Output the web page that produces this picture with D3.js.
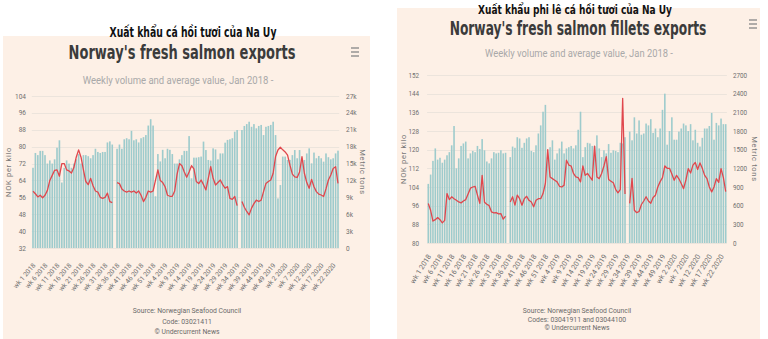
<!DOCTYPE html>
<html>
<head>
<meta charset="utf-8">
<script src="https://cdn.jsdelivr.net/npm/d3@7"></script>
<style>
  body { margin: 0; background: #fff; }
  svg { display: block; }
  text { font-family: Roboto, "Noto Sans", sans-serif; }
</style>
</head>
<body>
<script>
// categories: wk 1 2018 .. wk 24 2020
var weeks = [];
[2018, 2019].forEach(function (yr) {
  for (var w = 1; w <= 52; w++) weeks.push("wk " + w + " " + yr);
});
for (var w = 1; w <= 24; w++) weeks.push("wk " + w + " 2020");

var tickLabels = ["wk 1 2018", "wk 6 2018", "wk 11 2018", "wk 16 2018", "wk 21 2018", "wk 26 2018",
  "wk 31 2018", "wk 36 2018", "wk 41 2018", "wk 46 2018", "wk 51 2018", "wk 4 2019", "wk 9 2019",
  "wk 14 2019", "wk 19 2019", "wk 24 2019", "wk 29 2019", "wk 34 2019", "wk 39 2019", "wk 44 2019",
  "wk 49 2019", "wk 2 2020", "wk 7 2020", "wk 12 2020", "wk 17 2020", "wk 22 2020"];

// fresh salmon, metric tons per week
var salmonTons = [14250, 16880, 16500, 17250, 17250, 16500, 15000, 15560, 15000, 15750,
  17810, 19130, 11630, 14250, 15560, 15000, 14250, 15000, 15750, 16690,
  15000, 16500, 16500, 16310, 15940, 16500, 17630, 17060, 16880, 17060,
  17060, 18750, 18940, 18380, null, 17630, 18380, 17630, 19310, 19500,
  19310, 20810, 19130, 19310, 18750, 19500, 19690, 20060, 21750, 22880,
  21750, 9190, 16690, 15380, 17440, 15940, 17630, 17440, 16690, 15000,
  15000, 15750, 16500, 17250, 17250, 19880, 12380, 16050, 16050, 16130,
  16240, 18900, 17400, 15640, 15530, 17700, 17510, 15750, 16800, 16800,
  18710, 19200, 19310, 19500, 20660, 20960, null, 20960, 21680, 22010,
  22430, 21530, 22010, 21260, 21680, 21860, 20060, 21530, 21680, 21860,
  22430, 20060, 8810, 11180, 16240, 16240, 15640, 15640, 16500, 17400,
  15940, 17400, 15340, 15640, 16800, 17700, 15040, 16950, 15940, 16350,
  15940, 15340, 16800, 16130, 15750, 15940, 16800, 17290];

// fresh salmon, NOK per kilo
var salmonPrice = [58.9, 57.7, 56.2, 57, 55.8, 57, 59.3, 64, 66.4, 68.8,
  69, 66, 72, 72, 69, 68.5, 67.5, 70, 75, 78.5,
  75, 69, 63.5, 62, 65, 61.5, 59, 58.5, 56, 55.5,
  56, 58, 54, 53.5, null, 63, 62.5, 60, 59, 58.5,
  59, 58.5, 59, 58, 59, 57, 54, 56, 59, 58.5,
  59, 64, 69, 64, 63, 61, 57, 56.5, 56.5, 59,
  67, 72, 71, 68, 65.5, 68, 71, 69.5, 63.5, 62.5,
  64.2, 62, 59.5, 65, 70.5, 65, 61.8, 63, 64.2, 62,
  60.3, 61.1, 55.5, 55, 56.4, 52.1, null, 54, 51.3, 49.3,
  47.7, 50.9, 53, 54.7, 54, 54.7, 58.7, 62.6, 63.5, 64.2,
  67.4, 75.3, 78.4, 79.7, 78.5, 77.5, 76, 71.2, 67, 65.7,
  65.4, 68, 75.3, 67.4, 63, 60.3, 64.5, 61, 58.7, 57.5,
  57.1, 56.4, 60, 64.2, 66.6, 69.7, 70.5, 62.6];

// fresh salmon fillets, metric tons per week
var filletTons = [950, 1100, 1320, 1520, 1340, 1370, 1290, 1340, 1410, 1460,
  1570, 1880, 1200, 1360, 1560, 1600, 1630, 1360, 1440, 1480,
  1460, 1560, 1510, 1670, 1490, 1310, 1280, 1360, 1460, 1440,
  1450, 1490, 1440, 1450, null, 1380, 1550, 1530, 1700, 1680,
  1530, 1610, 1680, 1700, 1480, 1460, 1570, 1760, 1890, 2110,
  2220, 1380, 1540, 1650, 1340, 1440, 1520, 1630, 1440, 1520,
  1540, 1560, 1520, 1570, 1820, 2110, 1380, 1540, 1610, 1600,
  1560, 1560, 1730, 1520, 1380, 1490, 1440, 1590, 1450, 1490,
  1480, 1460, 1610, 1600, 1700, null, 1790, 1650, 2020, 1760,
  1970, 1740, 1760, 1920, 1890, 1990, 1770, 1840, 1700, 1840,
  2140, 2400, 1580, 1800, 2020, 1660, 1660, 1790, 1840, 1920,
  1890, 1800, 1910, 1650, 1820, 1610, 1550, 1690, 1840, 1840,
  1880, 2090, 1660, 1930, 1890, 2000, 1910, 1910];

// fresh salmon fillets, NOK per kilo
var filletPrice = [96.9, 94, 89.4, 90, 90.9, 90, 88.6, 89.7, 101.2, 98.6,
  99.8, 99, 98.3, 97.6, 97.2, 98, 98.6, 101, 103.5, 104,
  104.3, 100.5, 97, 109, 97.5, 96.6, 96, 93.3, 92.9, 93,
  92.5, 92.6, 90.2, 91.5, null, 97.6, 99.8, 96.2, 100.5, 99,
  96.2, 99, 100, 98.3, 97.6, 95.5, 98.3, 99, 99, 101.2,
  105.5, 120, 108.3, 107.6, 106.9, 106.2, 104.3, 104, 104.8, 115.5,
  113.4, 113, 109.8, 108.3, 108, 106.2, 113, 109, 109.8, 108.3,
  106.9, 121.5, 108.3, 107.6, 109.8, 113, 117, 107.2, 106.5, 105.8,
  103, 101.5, 103, 142, 101, null, 97, 107.7, 94, 93,
  93.5, 96.5, 98, 99.8, 98, 97, 99.5, 100.5, 104, 106.3,
  108, 113, 112, 112, 109.6, 106.9, 109, 107.5, 105.5, 103.3,
  107, 111.9, 110, 113.4, 114.5, 111.5, 114.3, 112, 109, 107.6,
  104, 101.9, 104, 107.6, 106, 111.9, 108, 102];

var priceTicks1 = [32, 40, 48, 56, 64, 72, 80, 88, 96, 104];
var tonTicks1 = [0, 3000, 6000, 9000, 12000, 15000, 18000, 21000, 24000, 27000];
var priceTicks2 = [80, 88, 96, 104, 112, 120, 128, 136, 144, 152];
var tonTicks2 = [0, 300, 600, 900, 1200, 1500, 1800, 2100, 2400, 2700];

var width = 768,
    height = 339;

var svg = d3.select("body")
    .append("svg")
    .attr("width", width)
    .attr("height", height);

var barColor = "#9ecbcc",
    lineColor = "#e0474d",
    panelColor = "#fdf0e6",
    gridColor = "#ece4dc";

// centred text squeezed horizontally to a given width
function fitText(g, t, cx, y, w) {
  var el = g.append("text")
      .attr("text-anchor", "middle")
      .text(t);
  return {
    el: el,
    fit: function () {
      var natural = el.node().getComputedTextLength();
      el.attr("transform", "translate(" + cx + "," + y + ") scale(" + (w / natural) + ",1)");
      return el;
    }
  };
}

function drawChart(o) {
  var g = svg.append("g");

  g.append("rect")
      .attr("x", o.panel[0]).attr("y", o.panel[1])
      .attr("width", o.panel[2]).attr("height", o.panel[3])
      .attr("fill", panelColor);

  var x = d3.scaleBand()
      .domain(weeks)
      .range(o.xRange)
      .paddingInner(0.32)
      .paddingOuter(0.16);
  var yL = d3.scaleLinear().domain(d3.extent(o.priceTicks)).range(o.yRange);
  var yR = d3.scaleLinear().domain(d3.extent(o.tonTicks)).range(o.yRange);

  // gridlines
  g.selectAll("line.grid")
      .data(o.priceTicks)
      .enter()
      .append("line")
      .attr("x1", o.xRange[0]).attr("x2", o.xRange[1])
      .attr("y1", function (d) { return Math.round(yL(d)) + 0.5; })
      .attr("y2", function (d) { return Math.round(yL(d)) + 0.5; })
      .attr("stroke", gridColor)
      .attr("stroke-width", 1);

  var rows = weeks.map(function (w, i) {
    return { week: w, tons: o.tons[i], price: o.price[i] };
  });

  g.selectAll("rect.bar")
      .data(rows.filter(function (d) { return d.tons != null; }))
      .enter()
      .append("rect")
      .attr("x", function (d) { return x(d.week); })
      .attr("width", x.bandwidth())
      .attr("y", function (d) { return yR(d.tons); })
      .attr("height", function (d) { return yR(0) - yR(d.tons); })
      .attr("fill", barColor);

  var line = d3.line()
      .defined(function (d) { return d.price != null; })
      .x(function (d) { return x(d.week) + x.bandwidth() / 2; })
      .y(function (d) { return yL(d.price); });

  g.append("path")
      .datum(rows)
      .attr("d", line)
      .attr("fill", "none")
      .attr("stroke", lineColor)
      .attr("stroke-width", 1.3)
      .attr("stroke-linejoin", "round");

  // axes
  var left = g.append("g")
      .attr("transform", "translate(" + o.leftX + ",0)")
      .call(d3.axisLeft(yL).tickValues(o.priceTicks).tickSize(0).tickPadding(0));
  var right = g.append("g")
      .attr("transform", "translate(" + o.rightX + ",0)")
      .call(d3.axisRight(yR).tickValues(o.tonTicks).tickSize(0).tickPadding(0).tickFormat(o.tonFormat));
  var bottom = g.append("g")
      .attr("transform", "translate(0," + o.yRange[0] + ")")
      .call(d3.axisBottom(x).tickValues(tickLabels).tickSize(0));

  [left, right, bottom].forEach(function (a) {
    a.select(".domain").remove();
    a.selectAll("text")
        .attr("fill", "#6f6f6f")
        .style("font-family", "Roboto, sans-serif")
        .style("font-size", o.tickFont + "px");
  });
  bottom.selectAll("text")
      .attr("y", 0)
      .attr("x", 0)
      .attr("dy", "0.35em")
      .attr("text-anchor", "end")
      .attr("transform", "translate(1," + o.labelDrop + ") rotate(" + o.labelAngle + ")")
      .style("font-size", o.xFont + "px");

  // axis titles
  var midY = (o.yRange[0] + o.yRange[1]) / 2;
  g.append("text")
      .attr("transform", "translate(" + o.leftTitleX + "," + midY + ") rotate(-90)")
      .attr("text-anchor", "middle")
      .attr("fill", "#777")
      .style("font-size", "7.5px")
      .style("letter-spacing", "0.7px")
      .text("NOK per kilo");
  g.append("text")
      .attr("transform", "translate(" + o.rightTitleX + "," + midY + ") rotate(90)")
      .attr("text-anchor", "middle")
      .attr("fill", "#777")
      .style("font-size", "7.5px")
      .style("letter-spacing", "0.7px")
      .text("Metric tons");

  // headings
  var cap = fitText(g, o.caption.text, o.caption.x, o.caption.y, o.caption.w);
  cap.el.attr("fill", "#111")
      .style("font-family", "'Liberation Sans Narrow', 'DejaVu Sans Condensed', sans-serif")
      .style("font-weight", "700")
      .style("font-size", o.caption.size + "px");
  cap.fit();

  var ttl = fitText(g, o.title.text, o.title.x, o.title.y, o.title.w);
  ttl.el.attr("fill", "#3b3b3b")
      .style("font-family", "'DejaVu Sans Condensed', 'Liberation Sans Narrow', sans-serif")
      .style("font-weight", "700")
      .style("font-size", "19px");
  ttl.fit();

  var sub = fitText(g, "Weekly volume and average value, Jan 2018 -", o.sub.x, o.sub.y, o.sub.w);
  sub.el.attr("fill", "#a9a9a9")
      .style("font-size", "11px");
  sub.fit();

  // hamburger menu
  g.selectAll("line.menu")
      .data([0, 1, 2])
      .enter()
      .append("line")
      .attr("x1", o.menu[0]).attr("x2", o.menu[0] + 8)
      .attr("y1", function (d) { return o.menu[1] + d * 4; })
      .attr("y2", function (d) { return o.menu[1] + d * 4; })
      .attr("stroke", "#8d8d8d")
      .attr("stroke-width", 1.4);

  // credits
  g.selectAll("text.credit")
      .data(o.credits)
      .enter()
      .append("text")
      .attr("x", o.creditX)
      .attr("y", function (d, i) { return o.creditY[i]; })
      .attr("text-anchor", "middle")
      .attr("fill", "#6a6a6a")
      .style("font-size", "6.8px")
      .text(function (d) { return d; });
}

drawChart({
  panel: [3, 36, 367, 303],
  xRange: [31.8, 339.2],
  yRange: [248, 96],
  tons: salmonTons,
  price: salmonPrice,
  priceTicks: priceTicks1,
  tonTicks: tonTicks1,
  tonFormat: function (d) { return d === 0 ? "0" : (d / 1000) + "k"; },
  leftX: 26, rightX: 346,
  leftTitleX: 11, rightTitleX: 360,
  tickFont: 6.5, xFont: 6.7,
  labelDrop: 16, labelAngle: -50,
  caption: { text: "Xuất khẩu cá hồi tươi của Na Uy", x: 193, y: 37, w: 167, size: 14 },
  title: { text: "Norway's fresh salmon exports", x: 182, y: 59, w: 227 },
  sub: { x: 178, y: 84, w: 191 },
  menu: [351, 48],
  credits: ["Source: Norwegian Seafood Council", "Code: 03021411", "\u00a9 Undercurrent News"],
  creditX: 187,
  creditY: [313, 324, 334]
});

drawChart({
  panel: [397, 8, 363, 331],
  xRange: [427.1, 726.9],
  yRange: [243, 75],
  tons: filletTons,
  price: filletPrice,
  priceTicks: priceTicks2,
  tonTicks: tonTicks2,
  tonFormat: d3.format("d"),
  leftX: 419, rightX: 733,
  leftTitleX: 406, rightTitleX: 752,
  tickFont: 6.3, xFont: 7.2,
  labelDrop: 12, labelAngle: -58,
  caption: { text: "Xuất khẩu phi lê cá hồi tươi của Na Uy", x: 575, y: 13.5, w: 194, size: 12.5 },
  title: { text: "Norway's fresh salmon fillets exports", x: 578, y: 35, w: 257 },
  sub: { x: 579, y: 57, w: 188 },
  menu: [749, 20],
  credits: ["Source: Norwegian Seafood Council", "Codes: 03041911 and 03044100", "\u00a9 Undercurrent News"],
  creditX: 577,
  creditY: [313, 321.5, 330]
});
</script>
</body>
</html>
